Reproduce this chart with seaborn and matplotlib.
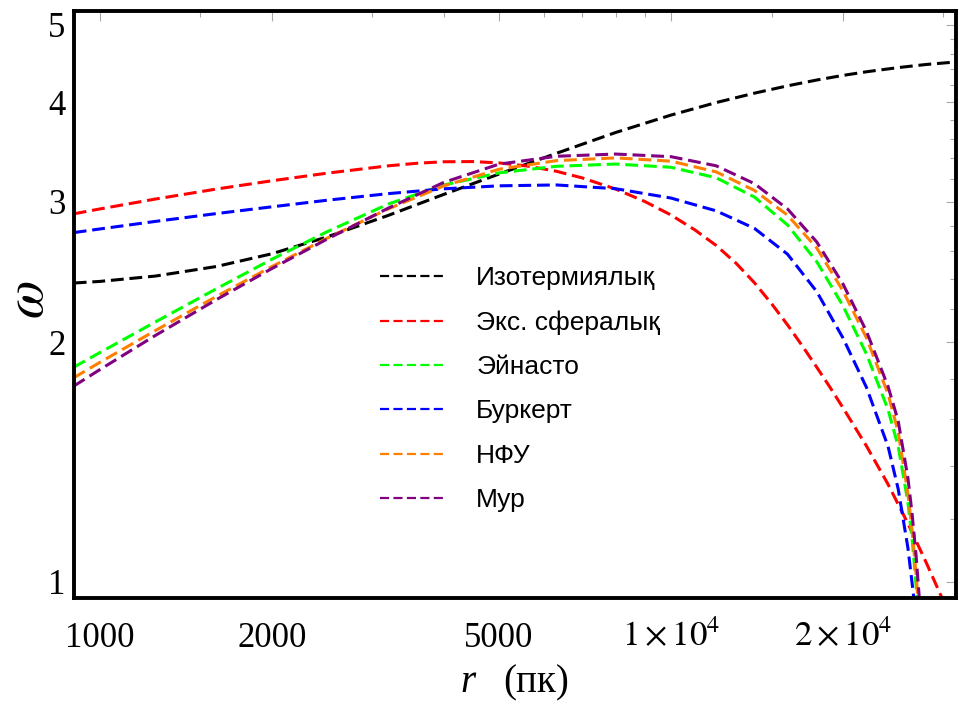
import matplotlib
matplotlib.use("Agg")
import matplotlib.pyplot as plt
from matplotlib.lines import Line2D
from matplotlib.ticker import FixedLocator, NullFormatter
import pandas as pd
import seaborn as sns

sns.set_theme(style="white")
plt.rcParams["font.family"] = ["Liberation Serif", "DejaVu Serif"]
plt.rcParams["mathtext.fontset"] = "stix"
plt.rcParams["text.color"] = "black"

# Rotation-curve shape parameter omega(r) for six dark-matter halo models
model_names = ["Изотермиялық", "Экс. сфералық", "Эйнасто", "Буркерт", "НФУ", "Мур"]
model_colors = ["#000000", "#ff0000", "#00ff00", "#0000ff", "#ff8000", "#800080"]

r_iso = [900, 1000, 1250, 1600, 2000, 2500, 3200, 4000, 5000, 6300, 8000, 10000,
         12000, 14000, 16000, 18000, 20000, 22000, 25000, 28000, 31500]
w_iso = [2.372, 2.383, 2.420, 2.488, 2.581, 2.710, 2.884, 3.064, 3.250, 3.450, 3.664,
         3.853, 3.995, 4.105, 4.193, 4.264, 4.321, 4.367, 4.420, 4.460, 4.492]

r_exp = [900, 1000, 1250, 1600, 2000, 2500, 3200, 3600, 4000, 4500, 5000, 5600, 6300,
         7000, 8000, 9000, 10000, 11000, 12000, 13000, 14000, 15000, 16000, 17000,
         18000, 19000, 20000, 22000, 24000, 26000, 28000, 30000]
w_exp = [2.897, 2.938, 3.023, 3.112, 3.187, 3.258, 3.328, 3.353, 3.367, 3.369, 3.356,
         3.326, 3.276, 3.213, 3.112, 3.002, 2.887, 2.767, 2.644, 2.512, 2.374, 2.235,
         2.102, 1.976, 1.860, 1.754, 1.655, 1.481, 1.326, 1.184, 1.057, 0.946]

r_ein = [900, 1000, 1250, 1600, 2000, 2500, 3200, 4000, 5000, 6300, 8000, 10000,
         12000, 14000, 16000, 18000, 20000, 22000, 24000, 25000, 26000, 26430, 26860, 27020]
w_ein = [1.860, 1.940, 2.119, 2.333, 2.540, 2.751, 2.980, 3.148, 3.261, 3.323, 3.345,
         3.314, 3.215, 3.041, 2.805, 2.523, 2.222, 1.932, 1.645, 1.479, 1.258, 1.136,
         0.994, 0.941]

r_bur = [900, 1000, 1250, 1600, 2000, 2500, 3200, 4000, 5000, 6300, 8000, 10000,
         12000, 14000, 16000, 18000, 20000, 22000, 24000, 25000, 26000, 26430, 26650]
w_bur = [2.744, 2.773, 2.834, 2.899, 2.956, 3.013, 3.071, 3.114, 3.141, 3.149, 3.115,
         3.032, 2.922, 2.778, 2.578, 2.314, 2.025, 1.754, 1.479, 1.308, 1.103, 0.999,
         0.948]

r_nfw = [900, 1000, 1250, 1600, 2000, 2500, 3200, 4000, 5000, 6300, 8000, 10000,
         12000, 14000, 16000, 18000, 20000, 22000, 24000, 25000, 26000, 26430, 26860, 27070]
w_nfw = [1.804, 1.886, 2.067, 2.282, 2.487, 2.700, 2.939, 3.140, 3.295, 3.378, 3.405,
         3.373, 3.270, 3.100, 2.886, 2.625, 2.320, 2.024, 1.721, 1.542, 1.290, 1.164,
         1.025, 0.952]

r_moore = [900, 1000, 1250, 1600, 2000, 2500, 3200, 4000, 5000, 6300, 8000, 10000,
           12000, 14000, 16000, 18000, 20000, 22000, 24000, 25000, 26000, 26430, 26860, 27240]
w_moore = [1.761, 1.847, 2.038, 2.261, 2.473, 2.693, 2.945, 3.172, 3.344, 3.421, 3.443,
           3.417, 3.328, 3.161, 2.938, 2.671, 2.367, 2.063, 1.759, 1.592, 1.350, 1.221,
           1.082, 0.948]

x_major = [1000, 2000, 5000, 10000, 20000]
x_major_labels = ["1000", "2000", "5000", r"$1\times10^{4}$", r"$2\times10^{4}$"]
x_minor = [1500, 3000, 4000, 6000, 7000, 8000, 9000, 15000, 30000]
y_major = [1, 2, 3, 4, 5]
y_major_labels = ["1", "2", "3", "4", "5"]
y_minor = [1.2, 1.4, 1.6, 1.8, 2.2, 2.4, 2.6, 2.8, 3.2, 3.4, 3.6, 3.8,
           4.2, 4.4, 4.6, 4.8, 5.2]

series_r = [r_iso, r_exp, r_ein, r_bur, r_nfw, r_moore]
series_w = [w_iso, w_exp, w_ein, w_bur, w_nfw, w_moore]

df = pd.concat(
    [pd.DataFrame({"r": r, "w": w, "model": name})
     for r, w, name in zip(series_r, series_w, model_names)],
    ignore_index=True,
)

W, H = 958, 711
fig = plt.figure(figsize=(W / 100, H / 100), dpi=100)
fig.patch.set_facecolor("white")
left, right, top, bottom = 74, 956, 11, 598
ax = fig.add_axes([left / W, 1 - bottom / H, (right - left) / W, (bottom - top) / H])
ax.set_facecolor("white")
ax.set_xscale("log")
ax.set_yscale("log")

for name, color in zip(model_names, model_colors):
    sub = df[df["model"] == name]
    sns.lineplot(data=sub, x="r", y="w", color=color, ax=ax, lw=2.2,
                 legend=False, estimator=None, sort=True)
for line in ax.lines:
    line.set_dashes((4.2, 1.9))
    line.set_dash_capstyle("butt")
    line.set_solid_joinstyle("round")

ax.set_xlim(901, 31560)
ax.set_ylim(0.9548, 5.205)

ax.xaxis.set_major_locator(FixedLocator(x_major))
ax.xaxis.set_minor_locator(FixedLocator(x_minor))
ax.xaxis.set_minor_formatter(NullFormatter())
ax.set_xticklabels(x_major_labels)
ax.yaxis.set_major_locator(FixedLocator(y_major))
ax.yaxis.set_minor_locator(FixedLocator(y_minor))
ax.yaxis.set_minor_formatter(NullFormatter())
ax.set_yticklabels(y_major_labels)

ax.tick_params(which="both", direction="in", top=True, right=True,
               color="#a8a8a8", width=0.8, labelsize=25, labelcolor="black")
ax.tick_params(which="major", length=7)
ax.tick_params(which="minor", length=4)
ax.tick_params(axis="x", which="major", pad=35)
ax.tick_params(axis="y", which="major", pad=6)
for lbl in ax.get_xticklabels():
    lbl.set_verticalalignment("baseline")

for sp in ax.spines.values():
    sp.set_visible(True)
    sp.set_color("black")
    sp.set_linewidth(2.8)

ax.set_xlabel("")
ax.set_ylabel("")
fig.text(29 / W, 1 - 300 / H, r"$\omega$", rotation=90, ha="center", va="center",
         fontsize=40)
fig.text(468 / W, 1 - 683 / H, "r", style="italic", ha="center", va="center",
         fontsize=28)
fig.text(536 / W, 1 - 683 / H, "(пк)", ha="center", va="center", fontsize=28)

handles = [Line2D([0], [0], color=c, lw=1.6, dashes=(4.1, 1.95)) for c in model_colors]
leg = ax.legend(handles, model_names, loc="upper left",
                bbox_to_anchor=(380 / W, 1 - 266 / H), bbox_transform=fig.transFigure,
                frameon=False, prop={"family": "Liberation Sans", "size": 19},
                handlelength=2.4, handletextpad=1.25, labelspacing=0.77,
                borderpad=0, borderaxespad=0)
for t in leg.get_texts():
    t.set_color("black")

fig.savefig("out.png", dpi=100, facecolor="white")
